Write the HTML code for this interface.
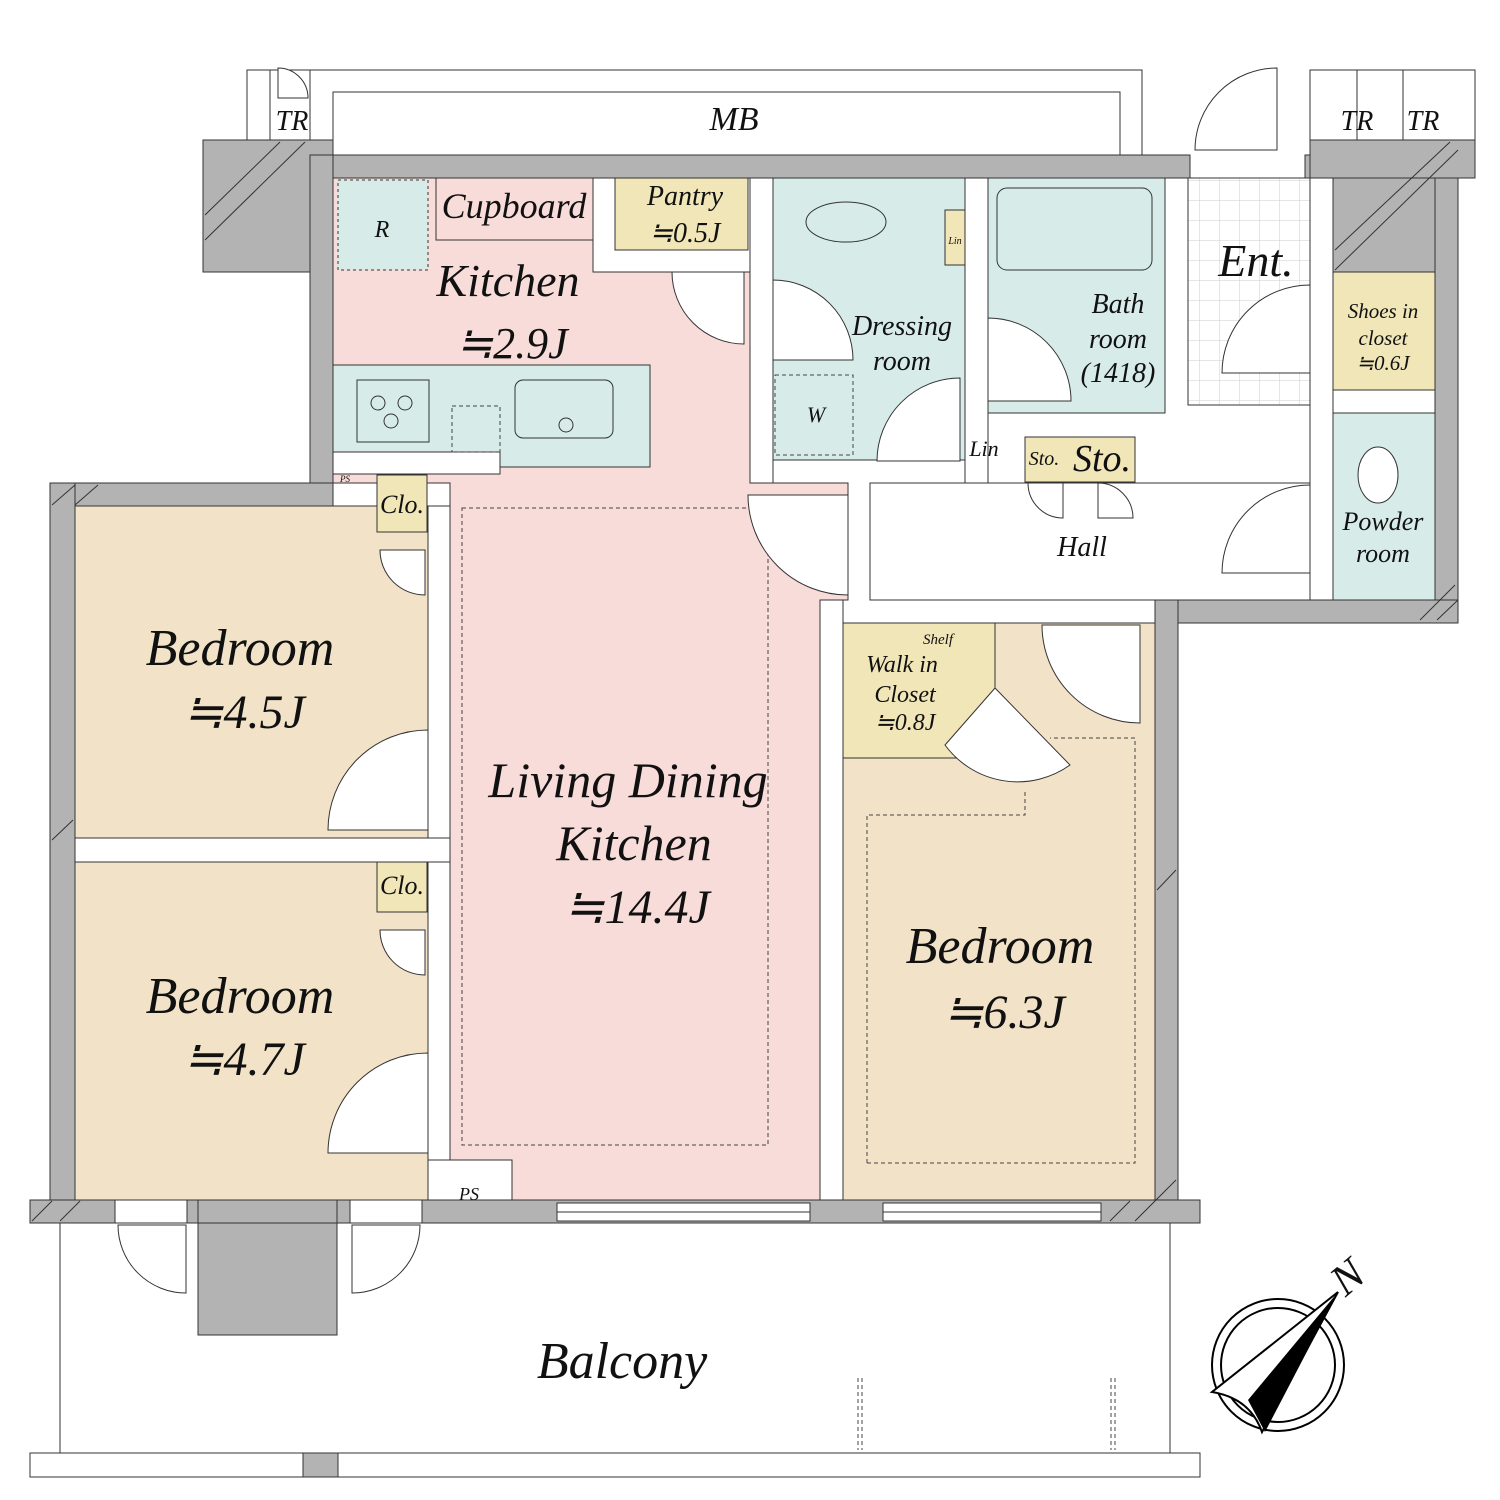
<!DOCTYPE html>
<html><head><meta charset="utf-8"><style>
html,body{margin:0;padding:0;background:#fff;}
svg{display:block;}
text{font-family:"Liberation Serif",serif;font-style:italic;fill:#111;}
</style></head><body>
<svg width="1500" height="1500" viewBox="0 0 1500 1500" xmlns="http://www.w3.org/2000/svg">
<defs>
<pattern id="tile" width="20" height="20" patternUnits="userSpaceOnUse"><rect width="20" height="20" fill="#fff"/><path d="M0 0H20V20" fill="none" stroke="#ccc" stroke-width="1"/></pattern>
</defs>
<g stroke="#333" stroke-width="1">
<rect x="247" y="70" width="895" height="90" fill="#fff"/>
<rect x="333" y="92" width="787" height="63" fill="#fff"/>
<rect x="1310" y="70" width="165" height="90" fill="#fff"/>
<line x1="1357" y1="70" x2="1357" y2="140"/><line x1="1403" y1="70" x2="1403" y2="140"/>
<line x1="270" y1="70" x2="270" y2="140"/><line x1="310" y1="70" x2="310" y2="140"/>
<rect x="203" y="140" width="130" height="132" fill="#b3b3b3"/>
<rect x="310" y="155" width="880" height="23" fill="#b3b3b3"/>
<rect x="310" y="155" width="23" height="330" fill="#b3b3b3"/>
<rect x="1305" y="155" width="170" height="23" fill="#b3b3b3"/>
<rect x="1310" y="140" width="165" height="38" fill="#b3b3b3"/>
<polygon points="1333,178 1458,178 1458,272 1333,272" fill="#b3b3b3"/>
<rect x="1435" y="178" width="23" height="445" fill="#b3b3b3"/>
<rect x="1155" y="600" width="303" height="23" fill="#b3b3b3"/>
<rect x="1155" y="600" width="23" height="600" fill="#b3b3b3"/>
<rect x="50" y="483" width="283" height="23" fill="#b3b3b3"/>
<rect x="50" y="483" width="25" height="740" fill="#b3b3b3"/>
<rect x="30" y="1200" width="1170" height="23" fill="#b3b3b3"/>
<polygon points="333,178 593,178 593,272 750,272 750,483 848,483 848,600 820,600 820,1200 450,1200 450,483 333,483" fill="#f7dcd9"/>
<rect x="75" y="506" width="353" height="332" fill="#f2e3c8"/>
<rect x="75" y="862" width="353" height="338" fill="#f2e3c8"/>
<polygon points="843,623 1155,623 1155,1200 843,1200" fill="#f2e3c8"/>
<rect x="773" y="178" width="192" height="282" fill="#d7ece8"/>
<rect x="988" y="178" width="177" height="235" fill="#d7ece8"/>
<rect x="1188" y="178" width="122" height="227" fill="url(#tile)"/>
<rect x="1333" y="272" width="102" height="118" fill="#f1e6b8"/>
<rect x="1333" y="413" width="102" height="187" fill="#d7ece8"/>
<rect x="870" y="483" width="440" height="117" fill="#fff"/>
<rect x="843" y="623" width="152" height="135" fill="#f1e6b8"/>
<rect x="615" y="178" width="133" height="72" fill="#f1e6b8"/>
<rect x="436" y="178" width="157" height="62" fill="#f7dcd9"/>
<rect x="377" y="475" width="50" height="57" fill="#f1e6b8"/>
<rect x="377" y="862" width="50" height="50" fill="#f1e6b8"/>
<rect x="1025" y="437" width="110" height="45" fill="#f1e6b8"/>
<rect x="945" y="210" width="20" height="55" fill="#f1e6b8"/>
<rect x="333" y="365" width="317" height="102" fill="#d7ece8"/>
<rect x="357" y="380" width="72" height="62" fill="#d7ece8"/>
<rect x="515" y="380" width="98" height="58" rx="8" fill="#d7ece8"/>
<circle cx="566" cy="425" r="7" fill="none"/>
<circle cx="378" cy="403" r="7" fill="none"/><circle cx="405" cy="403" r="7" fill="none"/><circle cx="391" cy="421" r="7" fill="none"/>
<rect x="333" y="452" width="167" height="22" fill="#fff"/>
<rect x="338" y="180" width="90" height="90" fill="#d7ece8" stroke-dasharray="3,3"/>
<rect x="997" y="188" width="155" height="82" rx="10" fill="#d7ece8"/>
<ellipse cx="846" cy="222" rx="40" ry="20" fill="none"/>
<ellipse cx="1378" cy="475" rx="20" ry="28" fill="#fff"/>
<rect x="428" y="506" width="22" height="694" fill="#fff"/>
<rect x="75" y="838" width="375" height="24" fill="#fff"/>
<rect x="750" y="178" width="23" height="305" fill="#fff"/>
<rect x="820" y="600" width="23" height="600" fill="#fff"/>
<rect x="965" y="178" width="23" height="305" fill="#fff"/>
<rect x="1310" y="178" width="23" height="422" fill="#fff"/>
<rect x="428" y="1160" width="84" height="40" fill="#fff"/>
<rect x="198" y="1200" width="139" height="135" fill="#b3b3b3"/>
<rect x="557" y="1203" width="253" height="18" fill="#fff"/>
<line x1="557" y1="1212" x2="810" y2="1212"/>
<rect x="883" y="1203" width="218" height="18" fill="#fff"/>
<line x1="883" y1="1212" x2="1101" y2="1212"/>
<rect x="115" y="1200" width="72" height="23" fill="#fff"/>
<rect x="350" y="1200" width="72" height="23" fill="#fff"/>
<rect x="60" y="1223" width="1110" height="230" fill="none"/>
<rect x="30" y="1453" width="1170" height="24" fill="#fff"/>
<rect x="303" y="1453" width="35" height="24" fill="#b3b3b3"/>
</g>
<g stroke="#333" stroke-width="1">
<line x1="205" y1="215" x2="280" y2="142"/><line x1="205" y1="240" x2="305" y2="142"/>
<line x1="1335" y1="250" x2="1450" y2="142"/><line x1="1335" y1="270" x2="1458" y2="150"/>
<line x1="52" y1="505" x2="75" y2="485"/><line x1="75" y1="505" x2="98" y2="485"/>
<line x1="1420" y1="620" x2="1455" y2="585"/><line x1="1437" y1="620" x2="1458" y2="600"/>
<line x1="32" y1="1221" x2="52" y2="1201"/><line x1="60" y1="1221" x2="80" y2="1201"/>
<line x1="1110" y1="1221" x2="1130" y2="1201"/><line x1="1135" y1="1221" x2="1176" y2="1180"/>
<line x1="1157" y1="890" x2="1176" y2="870"/><line x1="52" y1="840" x2="73" y2="820"/>
</g>
<g fill="none" stroke="#444" stroke-dasharray="4,3">
<rect x="462" y="508" width="306" height="637"/>
<polyline points="867,1163 1135,1163 1135,738 1050,738"/>
<polyline points="867,1163 867,815 1025,815 1025,790"/>
<rect x="452" y="406" width="48" height="46"/>
<rect x="775" y="375" width="78" height="80"/>
<line x1="858" y1="1378" x2="858" y2="1450"/><line x1="862" y1="1378" x2="862" y2="1450"/>
<line x1="1111" y1="1378" x2="1111" y2="1450"/><line x1="1115" y1="1378" x2="1115" y2="1450"/>
</g>
<g fill="#fff" stroke="#333">
<path d="M428,730 A100,100 0 0 0 328,830 L428,830Z"/>
<path d="M428,1053 A100,100 0 0 0 328,1153 L428,1153Z"/>
<path d="M748,495 A100,100 0 0 0 848,595 L848,495Z"/>
<path d="M672,272 A72,72 0 0 0 744,344 L744,272Z"/>
<path d="M773,280 A80,80 0 0 1 853,360 L773,360Z"/>
<path d="M960,378 A83,83 0 0 0 877,461 L960,461Z"/>
<path d="M988,318 A83,83 0 0 1 1071,401 L988,401Z"/>
<path d="M1310,285 A88,88 0 0 0 1222,373 L1310,373Z"/>
<path d="M1310,485 A88,88 0 0 0 1222,573 L1310,573Z"/>
<path d="M1042,625 A98,98 0 0 0 1140,723 L1140,625Z"/>
<path d="M1195,150 A82,82 0 0 1 1277,68 L1277,150Z"/>
<path d="M278,68 A30,30 0 0 1 308,98 L278,98Z"/>
<path d="M380,550 A45,45 0 0 0 425,595 L425,550Z"/>
<path d="M380,930 A45,45 0 0 0 425,975 L425,930Z"/>
<path d="M118,1225 A68,68 0 0 0 186,1293 L186,1225Z"/>
<path d="M420,1225 A68,68 0 0 1 352,1293 L352,1225Z"/>
<path d="M945,745 L995,688 L1070,765 A90,90 0 0 1 945,745Z"/>
<path d="M1028,483 A35,35 0 0 0 1063,518 L1063,483Z"/>
<path d="M1098,483 A35,35 0 0 1 1133,518 L1098,518Z"/>
</g>
<g>
<circle cx="1278" cy="1365" r="66" fill="none" stroke="#000" stroke-width="2"/>
<circle cx="1278" cy="1365" r="57" fill="none" stroke="#000" stroke-width="2"/>
<path d="M1338,1292 L1212,1392 Q1250,1398 1262,1432Z" fill="#fff" stroke="#000" stroke-width="2"/>
<path d="M1338,1292 L1248,1400 L1265,1432Z" fill="#000"/>
<text x="1330" y="1285" font-size="44" transform="rotate(-40 1355 1270)">N</text>
</g>
<g text-anchor="middle">
<text x="292" y="130" font-size="28">TR</text>
<text x="1357" y="130" font-size="28">TR</text>
<text x="1423" y="130" font-size="28">TR</text>
<text x="734" y="130" font-size="34">MB</text>
<text x="382" y="237" font-size="24">R</text>
<text x="514" y="218" font-size="36">Cupboard</text>
<text x="685" y="205" font-size="28">Pantry</text>
<text x="685" y="242" font-size="28">≒0.5J</text>
<text x="508" y="296" font-size="46">Kitchen</text>
<text x="512" y="358" font-size="44">≒2.9J</text>
<text x="902" y="335" font-size="28">Dressing</text>
<text x="902" y="370" font-size="28">room</text>
<text x="816" y="422" font-size="22">W</text>
<text x="955" y="244" font-size="10">Lin</text>
<text x="984" y="456" font-size="22">Lin</text>
<text x="1118" y="313" font-size="28">Bath</text>
<text x="1118" y="348" font-size="28">room</text>
<text x="1118" y="382" font-size="28">(1418)</text>
<text x="1256" y="276" font-size="46">Ent.</text>
<text x="1383" y="318" font-size="21">Shoes in</text>
<text x="1383" y="345" font-size="21">closet</text>
<text x="1383" y="370" font-size="21">≒0.6J</text>
<text x="1383" y="530" font-size="26">Powder</text>
<text x="1383" y="562" font-size="26">room</text>
<text x="1044" y="465" font-size="20">Sto.</text>
<text x="1102" y="471" font-size="38">Sto.</text>
<text x="1082" y="556" font-size="28">Hall</text>
<text x="402" y="513" font-size="26">Clo.</text>
<text x="402" y="894" font-size="26">Clo.</text>
<text x="345" y="482" font-size="9">PS</text>
<text x="469" y="1200" font-size="18">PS</text>
<text x="240" y="665" font-size="52">Bedroom</text>
<text x="244" y="728" font-size="48">≒4.5J</text>
<text x="240" y="1013" font-size="52">Bedroom</text>
<text x="244" y="1075" font-size="48">≒4.7J</text>
<text x="628" y="797" font-size="50">Living Dining</text>
<text x="634" y="860" font-size="50">Kitchen</text>
<text x="637" y="923" font-size="48">≒14.4J</text>
<text x="1000" y="963" font-size="52">Bedroom</text>
<text x="1004" y="1028" font-size="48">≒6.3J</text>
<text x="938" y="644" font-size="15">Shelf</text>
<text x="902" y="672" font-size="24">Walk in</text>
<text x="905" y="702" font-size="24">Closet</text>
<text x="905" y="730" font-size="24">≒0.8J</text>
<text x="622" y="1378" font-size="52">Balcony</text>
</g>
</svg>
</body></html>
